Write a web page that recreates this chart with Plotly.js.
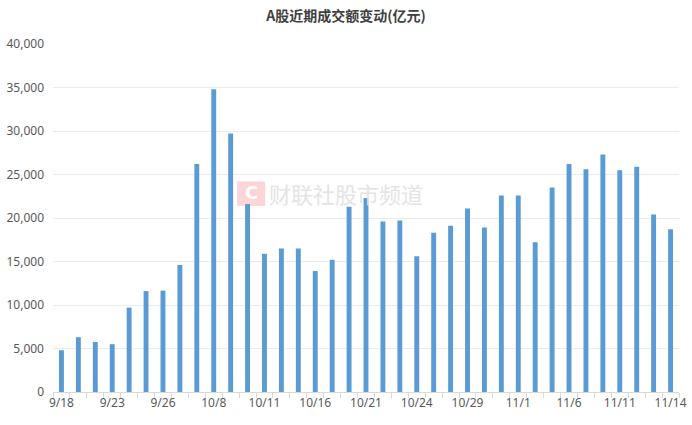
<!DOCTYPE html>
<html>
<head>
<meta charset="utf-8">
<script src="https://cdn.plot.ly/plotly-3.0.1.min.js"></script>
<style>html,body{margin:0;padding:0;background:#fff;}#chart{width:692px;height:425px;}</style>
</head>
<body>
<div id="chart"></div>
<script>
const dates = ["9/18","9/19","9/20","9/23","9/24","9/25","9/26","9/27","9/30",
  "10/8","10/9","10/10","10/11","10/14","10/15","10/16","10/17","10/18",
  "10/21","10/22","10/23","10/24","10/25","10/28","10/29","10/30","10/31",
  "11/1","11/4","11/5","11/6","11/7","11/8","11/11","11/12","11/13","11/14"];
const turnover = [4800,6300,5750,5500,9700,11600,11650,14600,26200,
  34800,29700,21600,15900,16500,16500,13900,15200,
  21300,22300,19600,19700,15600,18300,19100,21100,18900,22600,
  22600,17200,23500,26200,25600,27300,25500,25900,20400,18700];
const labelStep = 3;

const idx = dates.map((d, i) => i);
const tickIdx = idx.filter(i => i % labelStep === 0);
const tickText = tickIdx.map(i => dates[i]);

const trace = {
  type: 'bar',
  x: idx,
  y: turnover,
  hovertext: dates,
  hoverinfo: 'text+y',
  textposition: 'none',
  width: 0.29,
  marker: {color: '#5B9BD5', line: {width: 0}}
};

const layout = {
  width: 692, height: 425,
  margin: {l: 53, r: 13, t: 44, b: 33},
  paper_bgcolor: '#fff', plot_bgcolor: '#fff',
  showlegend: false,
  title: {
    text: '<b>A股近期成交额变动(亿元)</b>',
    font: {family: '"Noto Sans CJK SC", sans-serif', size: 14, color: '#404040'},
    x: 0.5, xanchor: 'center', y: 0.962, yanchor: 'middle'
  },
  xaxis: {
    range: [-0.5, dates.length - 0.5],
    tickmode: 'array', tickvals: tickIdx, ticktext: tickText,
    ticks: '', showgrid: false, zeroline: false,
    showline: true, linecolor: '#d9d9d9', linewidth: 1,
    minor: {tickmode: 'linear', tick0: 0.5, dtick: 1, ticks: 'outside', ticklen: 5, tickcolor: '#d9d9d9', showgrid: false},
    tickfont: {family: '"Noto Sans", "DejaVu Sans", sans-serif', size: 12, color: '#595959'},
    fixedrange: true
  },
  yaxis: {
    range: [0, 40000], dtick: 5000, tickformat: ',d',
    showgrid: true, gridcolor: '#ebebeb', gridwidth: 1,
    zeroline: false, showline: false, ticks: '',
    ticklabelstandoff: 8,
    tickfont: {family: '"Noto Sans", "DejaVu Sans", sans-serif', size: 12, color: '#595959'},
    fixedrange: true
  },
  shapes: [
    {type: 'rect', xref: 'paper', yref: 'paper', layer: 'below',
     x0: 0.294, x1: 0.339, y0: 0.535, y1: 0.605,
     fillcolor: '#fcd6d6', line: {width: 0}}
  ],
  annotations: [
    {xref: 'paper', yref: 'paper', x: 0.3165, y: 0.572, xanchor: 'center', yanchor: 'middle',
     text: '<b>C</b>', showarrow: false,
     font: {family: 'DejaVu Sans, sans-serif', size: 18, color: '#ffffff'}},
    {xref: 'paper', yref: 'paper', x: 0.342, y: 0.572, xanchor: 'left', yanchor: 'middle',
     text: '财联社股市频道', showarrow: false,
     font: {family: '"Noto Sans CJK SC", sans-serif', size: 22, color: '#e4e4e4'}}
  ]
};

Plotly.newPlot('chart', [trace], layout, {staticPlot: true, displayModeBar: false});
</script>
</body>
</html>
